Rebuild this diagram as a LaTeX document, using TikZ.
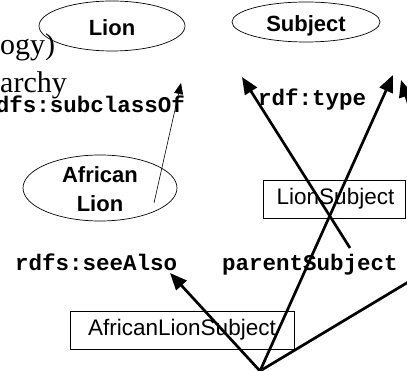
\documentclass[tikz,border=0pt]{standalone}
\usepackage{fontspec}
\setmainfont{Liberation Serif}
\setsansfont{Liberation Sans}
\setmonofont{Liberation Mono}
\usetikzlibrary{shapes.geometric,arrows.meta}

\begin{document}
\begin{tikzpicture}[x=1pt,y=-1pt,
  concept/.style={ellipse,draw,line width=0.7pt,inner sep=0pt},
  instbox/.style={rectangle,draw,line width=0.8pt,inner sep=0pt,
    font=\sffamily\fontsize{22.5}{27}\selectfont},
  conceptlabel/.style={inner sep=0pt,align=center,
    font=\sffamily\bfseries\fontsize{22}{29}\selectfont},
  proplabel/.style={inner sep=0pt,font=\ttfamily\bfseries\fontsize{22.5}{27}\selectfont},
  titletext/.style={inner sep=0pt,font=\rmfamily\fontsize{30}{36}\selectfont},
  relarrow/.style={line width=2.7pt,-{Triangle[length=17pt,width=14pt]}},
  thinarrow/.style={line width=0.6pt,-{Triangle[length=11pt,width=9pt]}}]

\useasboundingbox (0,0) rectangle (407,371);
\clip (0,0) rectangle (407,371);

% leftover title lines
\node[titletext,anchor=base west] (title1) at (0,55) {ogy)};
\node[titletext,anchor=base west] (title2) at (0,93) {archy};

% concepts
\node[concept,minimum width=146pt,minimum height=50pt] (lion) at (112,26) {};
\node[conceptlabel,anchor=base] (lionlabel) at (112,36) {Lion};
\node[concept,minimum width=148pt,minimum height=40pt] (subject) at (306,22) {};
\node[conceptlabel,anchor=base] (subjectlabel) at (306,32) {Subject};
\node[concept,minimum width=154pt,minimum height=66pt] (aflion) at (100,188) {};
\node[conceptlabel] (aflionlabel) at (100,189.5) {African\\Lion};

% instances
\node[instbox,minimum width=142pt,minimum height=38pt] (lionsubj) at (334,199) {\hspace*{3pt}LionSubject};
\node[instbox,minimum width=224pt,minimum height=38pt] (aflionsubj) at (182,330) {AfricanLionSubject};

% property labels
\node[proplabel,anchor=base east] (subclassof) at (185,113) {dfs:subclassOf};
\node[proplabel,anchor=base west] (rdftype) at (258,106) {rdf:type};
\node[proplabel,anchor=base west] (seealso) at (15,271) {rdfs:seeAlso};
\node[proplabel,anchor=base west] (parentsubj) at (222,271) {parentSubject};

% connector end points
\coordinate (apex) at (260,371);
\coordinate (seealsotip) at (170,273);
\coordinate (subjtipR) at (393,75);
\coordinate (subjtipL) at (242,77);
\coordinate (parenttail) at (350,248);
\coordinate (rightexit) at (440,263);
\coordinate (edgetip) at (401,80);
\coordinate (edgetail) at (420,141);
\coordinate (subtail) at (154,203);
\coordinate (subtip) at (181,83);

% connectors
\draw[thinarrow] (subtail) -- (subtip);
\draw[relarrow] (apex) -- (seealsotip);
\draw[relarrow] (apex) -- (subjtipR);
\draw[line width=2.7pt] (apex) -- (rightexit);
\draw[relarrow] (parenttail) -- (subjtipL);
\draw[relarrow] (edgetail) -- (edgetip);
\end{tikzpicture}
\end{document}
